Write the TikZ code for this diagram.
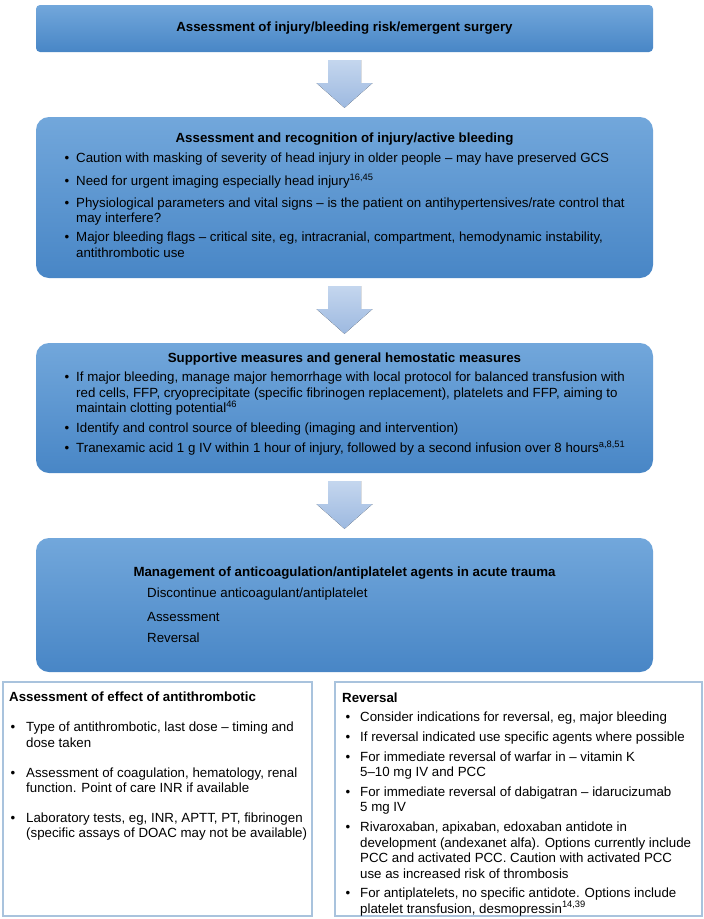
\documentclass[tikz,border=0pt]{standalone}
\usepackage{fontspec}
\setmainfont{Liberation Sans}
\usetikzlibrary{calc}
\definecolor{boxtop}{HTML}{72A7DB}
\definecolor{boxbot}{HTML}{4886C6}
\definecolor{arrtop}{HTML}{C4D6EE}
\definecolor{arrbot}{HTML}{9DB9E0}
\definecolor{lbord}{HTML}{A9C3DD}
\newcommand\fs{\fontsize{13.3}{15.5}\selectfont}
\newcommand\Ln[4]{\node[tx] (#1) at (#2,#3) {#4};}
\newcommand\Bu[3]{\node[bu] (#1) at (#2,#3) {\textbullet};}
\newcommand\BlockArrow[3]{%
  \path ($(#2.south)+(0,8)$) coordinate (#1s) ($(#3.north)+(0,-9)$) coordinate (#1e);
  \path ($(#1s)!0.48!(#1e)$) coordinate (#1h);
  \fill[arrowfill] ($(#1s)+(-16.5,0)$) -- ($(#1s)+(16.5,0)$) -- ($(#1h)+(16.5,0)$) -- ($(#1h)+(28,0)$)
    -- (#1e) -- ($(#1h)+(-28,0)$) -- ($(#1h)+(-16.5,0)$) -- cycle;}
\begin{document}
\begin{tikzpicture}[x=1pt,y=-1pt,
  bluebox/.style={top color=boxtop, bottom color=boxbot, inner sep=0pt, minimum width=617pt},
  whitebox/.style={draw=lbord, line width=1.5pt, fill=white, inner sep=0pt, minimum height=234pt},
  arrowfill/.style={top color=arrtop, bottom color=arrbot},
  tx/.style={anchor=base west, inner sep=0pt, font=\fs},
  hd/.style={anchor=base, inner sep=0pt, font=\fs\bfseries},
  hdl/.style={anchor=base west, inner sep=0pt, font=\fs\bfseries},
  bu/.style={anchor=base, inner sep=0pt, font=\fs}]
\path[use as bounding box, fill=white] (0,0) rectangle (704,919);

% blue boxes
\node[bluebox, rounded corners=4pt, minimum height=47pt] (b1) at (344.5,28.5) {};
\node[bluebox, rounded corners=13pt, minimum height=161pt] (b2) at (344.5,197.5) {};
\node[bluebox, rounded corners=13pt, minimum height=130pt] (b3) at (344.5,408) {};
\node[bluebox, rounded corners=13pt, minimum height=134pt] (b4) at (344.5,605) {};
% white boxes
\node[whitebox, minimum width=309pt] (lb) at (157.5,799) {};
\node[whitebox, minimum width=367pt] (rb) at (518.5,799) {};

% block arrows
\BlockArrow{a1}{b1}{b2}
\BlockArrow{a2}{b2}{b3}
\BlockArrow{a3}{b3}{b4}

% box 1
\node[hd] (t1) at (344.5,31.5) {Assessment of injury/bleeding risk/emergent surgery};

% box 2
\node[hd] (t2) at (344.5,142.5) {Assessment and recognition of injury/active bleeding};
\Bu{b2u1}{67}{162.5}\Ln{b2l1}{76}{162.5}{Caution with masking of severity of head injury in older people – may have preserved GCS}
\Bu{b2u2}{67}{185.5}\Ln{b2l2}{76}{185.5}{Need for urgent imaging especially head injury\textsuperscript{16,45}}
\Bu{b2u3}{67}{207.5}\Ln{b2l3}{76}{207.5}{Physiological parameters and vital signs – is the patient on antihypertensives/rate control that}
\Ln{b2l4}{76}{222.5}{may interfere?}
\Bu{b2u4}{67}{241.5}\Ln{b2l5}{76}{241.5}{Major bleeding flags – critical site, eg, intracranial, compartment, hemodynamic instability,}
\Ln{b2l6}{76}{257.5}{antithrombotic use}

% box 3
\node[hd] (t3) at (344.5,362.5) {Supportive measures and general hemostatic measures};
\Bu{b3u1}{67}{381.5}\Ln{b3l1}{76}{381.5}{If major bleeding, manage major hemorrhage with local protocol for balanced transfusion with}
\Ln{b3l2}{76}{397.5}{red cells, FFP, cryoprecipitate (specific fibrinogen replacement), platelets and FFP, aiming to}
\Ln{b3l3}{76}{412.5}{maintain clotting potential\textsuperscript{46}}
\Bu{b3u2}{67}{432.5}\Ln{b3l4}{76}{432.5}{Identify and control source of bleeding (imaging and intervention)}
\Bu{b3u3}{67}{452.5}\Ln{b3l5}{76}{452.5}{Tranexamic acid 1 g IV within 1 hour of injury, followed by a second infusion over 8 hours\textsuperscript{a,8,51}}

% box 4
\node[hd] (t4) at (344.5,576.5) {Management of anticoagulation/antiplatelet agents in acute trauma};
\Ln{b4l1}{147}{597.5}{Discontinue anticoagulant/antiplatelet}
\Ln{b4l2}{147}{621.5}{Assessment}
\Ln{b4l3}{147}{642.5}{Reversal}

% left box
\node[hdl] (tl) at (9,701.5) {Assessment of effect of antithrombotic};
\Bu{lu1}{13}{731.5}\Ln{ll1}{26}{731.5}{Type of antithrombotic, last dose – timing and}
\Ln{ll2}{26}{747.5}{dose taken}
\Bu{lu2}{13}{777.5}\Ln{ll3}{26}{777.5}{Assessment of coagulation, hematology, renal}
\Ln{ll4}{26}{792.5}{function. Point of care INR if available}
\Bu{lu3}{13}{822.5}\Ln{ll5}{26}{822.5}{Laboratory tests, eg, INR, APTT, PT, fibrinogen}
\Ln{ll6}{26}{837.5}{(specific assays of DOAC may not be available)}

% right box
\node[hdl] (tr) at (342,702.5) {Reversal};
\Bu{ru1}{348}{721.5}\Ln{rl1}{360}{721.5}{Consider indications for reversal, eg, major bleeding}
\Bu{ru2}{348}{741.5}\Ln{rl2}{360}{741.5}{If reversal indicated use specific agents where possible}
\Bu{ru3}{348}{761.5}\Ln{rl3}{360}{761.5}{For immediate reversal of warfar in – vitamin K}
\Ln{rl4}{360}{776.5}{5–10 mg IV and PCC}
\Bu{ru4}{348}{796.5}\Ln{rl5}{360}{796.5}{For immediate reversal of dabigatran – idarucizumab}
\Ln{rl6}{360}{811.5}{5 mg IV}
\Bu{ru5}{348}{831.5}\Ln{rl7}{360}{831.5}{Rivaroxaban, apixaban, edoxaban antidote in}
\Ln{rl8}{360}{847}{development (andexanet alfa). Options currently include}
\Ln{rl9}{360}{862.5}{PCC and activated PCC. Caution with activated PCC}
\Ln{rl10}{360}{878}{use as increased risk of thrombosis}
\Bu{ru6}{348}{897.5}\Ln{rl11}{360}{897.5}{For antiplatelets, no specific antidote. Options include}
\Ln{rl12}{360}{913}{platelet transfusion, desmopressin\textsuperscript{14,39}}
\end{tikzpicture}
\end{document}
